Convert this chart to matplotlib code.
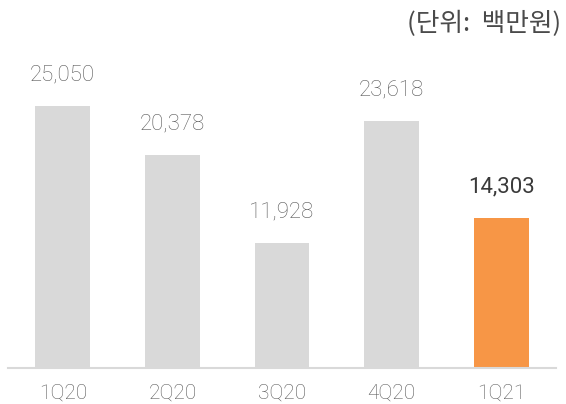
import matplotlib.pyplot as plt
import matplotlib.ticker as ticker

plt.rcParams['font.family'] = ['Roboto', 'Noto Sans CJK KR', 'DejaVu Sans']

quarters = ['1Q20', '2Q20', '3Q20', '4Q20', '1Q21']
values = [25050, 20378, 11928, 23618, 14303]
colors = ['#d9d9d9', '#d9d9d9', '#d9d9d9', '#d9d9d9', '#f79646']

fig = plt.figure(figsize=(5.66, 4.04), dpi=100)
ax = fig.add_axes([8/566, 36/404, 548/566, 328/404])

x = range(len(quarters))
ax.bar(x, values, width=0.5, color=colors, zorder=2)

for i, v in enumerate(values):
    last = i == len(values) - 1
    ax.annotate('{:,}'.format(v), (i, v), xytext=(0, 15), textcoords='offset points',
                ha='center', va='bottom', fontsize=16,
                color='#3a3a3a' if last else '#595959',
                fontweight='normal' if last else 'light')

ax.set_xlim(-0.5, 4.5)
ax.set_ylim(0, 31360)
ax.set_xticks(list(x))
ax.set_xticklabels(quarters, fontsize=15, color='#595959', fontweight='light')
ax.tick_params(axis='x', length=0, pad=11)
ax.yaxis.set_major_locator(ticker.NullLocator())

for s in ['top', 'right', 'left']:
    ax.spines[s].set_visible(False)
ax.spines['bottom'].set_color('#d9d9d9')
ax.spines['bottom'].set_linewidth(1.5)

fig.text(561/566, 1 - 24/404, '(단위:  백만원)', ha='right', va='center',
         fontsize=18.5, color='#4a4a4a', fontweight='light',
         family=['Noto Sans CJK KR', 'DejaVu Sans'])

plt.savefig('out.png', dpi=100)
